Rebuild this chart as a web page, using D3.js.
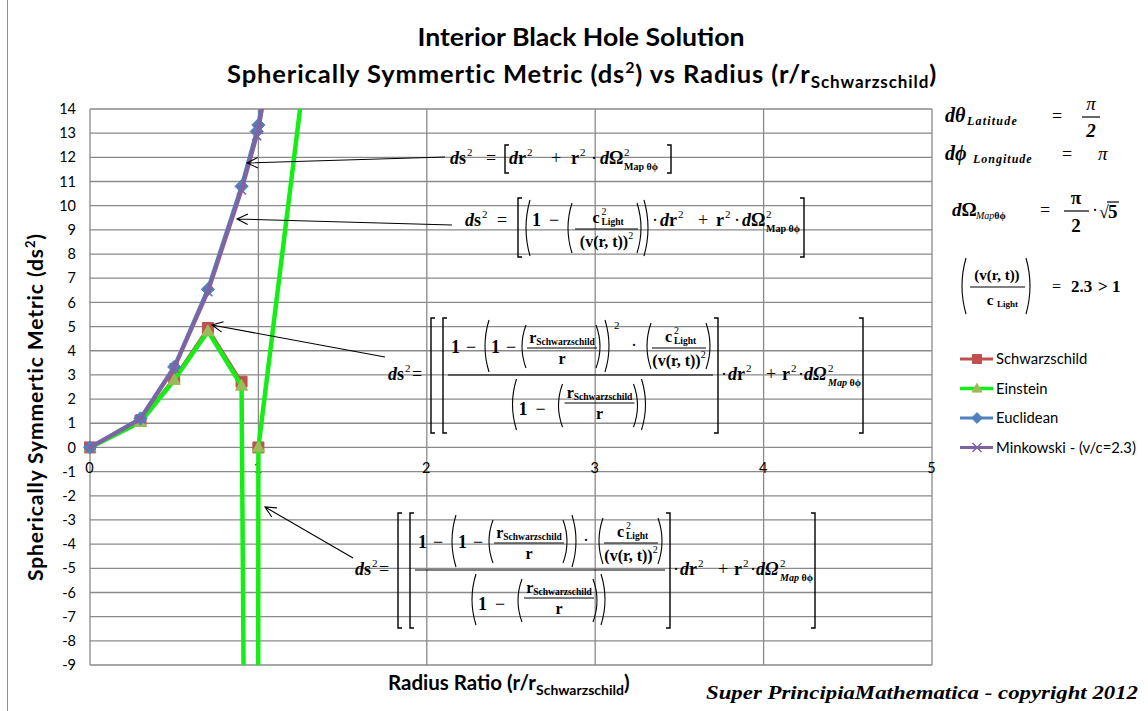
<!DOCTYPE html>
<html>
<head>
<meta charset="utf-8">
<script src="https://cdn.jsdelivr.net/npm/d3@7"></script>
<style>
  body { margin: 0; background: #fff; }
</style>
</head>
<body>
<svg id="chart" width="1148" height="711"></svg>
<script>
// values (errors such as #DIV/0! are plotted as 0, like Excel does)
const radius        = [0, 0.3, 0.5, 0.7, 0.9, 0.99, 1, 2, 3, 4, 5];
const schwarzschild = [0, 1.11, 2.88, 4.94, 2.72, -84.9, 0, 56.97, 123.4, 216.5, 335.9];
const einstein      = [0, 1.05, 2.79, 4.81, 2.55, -85.1, 0, 56.59, 122.8, 215.7, 334.9];
const euclidean     = [0, 1.20, 3.33, 6.54, 10.80, 13.07, 13.34, 53.35, 120.0, 213.4, 333.4];
const minkowski     = [0, 1.18, 3.29, 6.44, 10.65, 12.89, 13.15, 52.59, 118.3, 210.4, 328.7];

const xTicks = [0, 1, 2, 3, 4, 5];
const yTicks = [-9, -8, -7, -6, -5, -4, -3, -2, -1, 0, 1, 2, 3, 4, 5, 6, 7, 8, 9, 10, 11, 12, 13, 14];
const seriesNames = ["Schwarzschild", "Einstein", "Euclidean", "Minkowski - (v/c=2.3)"];

const sans = "Lato, 'Open Sans', sans-serif";
const serif = "'Liberation Serif', 'DejaVu Serif', serif";

const svg = d3.select("#chart");
svg.append("rect").attr("width", 1148).attr("height", 711).attr("fill", "#fff");
svg.append("line").attr("x1", 7.5).attr("x2", 7.5).attr("y1", 0).attr("y2", 711)
  .attr("stroke", "#8c8c8c");

const x = d3.scaleLinear().domain([0, 5]).range([90, 932]);
const y = d3.scaleLinear().domain([-9, 14]).range([665, 109]);

// grid
const grid = svg.append("g").attr("stroke", "#8a8a8a").attr("stroke-width", 1.3);
grid.selectAll(".h").data(yTicks).join("line")
  .attr("x1", x(0)).attr("x2", x(5))
  .attr("y1", d => y(d)).attr("y2", d => y(d));
grid.selectAll(".v").data(xTicks).join("line")
  .attr("x1", d => x(d)).attr("x2", d => x(d))
  .attr("y1", y(14)).attr("y2", y(-9));

// axes (labels only, lines come from the grid)
const yAxis = svg.append("g").attr("transform", `translate(${x(0)},0)`)
  .call(d3.axisLeft(y).tickValues(yTicks).tickFormat(d => String(d)).tickSize(0).tickPadding(14));
const xAxis = svg.append("g").attr("transform", `translate(0,${y(0)})`)
  .call(d3.axisBottom(x).tickValues(xTicks).tickFormat(d => String(d)).tickSize(0).tickPadding(15));
[yAxis, xAxis].forEach(a => {
  a.select(".domain").remove();
  a.selectAll("text").attr("font-family", sans).attr("font-size", 14.5).attr("fill", "#000");
});
xAxis.selectAll("text").attr("dx", -1);

// series
const series = [
  { name: seriesNames[0], values: schwarzschild, line: "#C0504D", width: 2.5, marker: "square", fill: "#C0504D" },
  { name: seriesNames[1], values: einstein, line: "#14EE14", width: 4.5, marker: "triangle", fill: "#9BBB59" },
  { name: seriesNames[2], values: euclidean, line: "#4F81BD", width: 4, marker: "diamond", fill: "#4F81BD" },
  { name: seriesNames[3], values: minkowski, line: "#8064A2", width: 4, marker: "cross", fill: "#8064A2" }
];

svg.append("clipPath").attr("id", "plot").append("rect")
  .attr("x", x(0)).attr("y", y(14)).attr("width", x(5) - x(0)).attr("height", y(-9) - y(14));

function markerPath(type, r) {
  if (type === "square") return `M${-r},${-r}H${r}V${r}H${-r}Z`;
  if (type === "triangle") return `M0,${-r * 1.15}L${r * 1.1},${r * 0.8}L${-r * 1.1},${r * 0.8}Z`;
  if (type === "diamond") return `M0,${-r * 1.2}L${r * 1.2},0L0,${r * 1.2}L${-r * 1.2},0Z`;
  return `M${-r},${-r}L${r},${r}M${r},${-r}L${-r},${r}`;
}

const line = d3.line().x(d => x(d[0])).y(d => y(d[1]));
series.forEach(s => {
  const pts = radius.map((r, i) => [r, s.values[i]]);
  const g = svg.append("g");
  g.append("path").datum(pts).attr("clip-path", "url(#plot)")
    .attr("d", line).attr("fill", "none")
    .attr("stroke", s.line).attr("stroke-width", s.width).attr("stroke-linejoin", "round");
  g.selectAll("path.m").data(pts.filter(p => p[1] >= -9 && p[1] <= 14 && p[0] <= 5)).join("path")
    .attr("class", "m")
    .attr("transform", d => `translate(${x(d[0])},${y(d[1])})`)
    .attr("d", markerPath(s.marker, s.marker === "cross" ? 4.5 : 5.5))
    .attr("fill", s.marker === "cross" ? "none" : s.fill)
    .attr("stroke", s.fill).attr("stroke-width", s.marker === "cross" ? 1.6 : 1);
});

// titles
svg.append("text").attr("x", 581).attr("y", 46).attr("text-anchor", "middle")
  .attr("font-family", sans).attr("font-weight", "bold").attr("font-size", 25)
  .attr("textLength", 327).attr("lengthAdjust", "spacingAndGlyphs")
  .text("Interior Black Hole Solution");
const t2 = svg.append("text").attr("x", 227).attr("y", 83)
  .attr("font-family", sans).attr("font-weight", "bold").attr("font-size", 25.5)
  .attr("letter-spacing", 0.9);
t2.append("tspan").text("Spherically Symmertic Metric (ds");
t2.append("tspan").text("2").attr("font-size", 16).attr("dy", -10);
t2.append("tspan").text(") vs Radius (r/r").attr("dy", 10);
t2.append("tspan").text("Schwarzschild").attr("font-size", 17).attr("dy", 5);
t2.append("tspan").text(")").attr("dy", -5);

const yt = svg.append("text").attr("transform", "translate(43,407) rotate(-90)")
  .attr("text-anchor", "middle").attr("font-family", sans).attr("font-weight", "bold").attr("font-size", 21)
  .attr("letter-spacing", 0.9);
yt.append("tspan").text("Spherically Symmertic Metric (ds");
yt.append("tspan").text("2").attr("font-size", 13).attr("dy", -8);
yt.append("tspan").text(")").attr("dy", 8);

const xt = svg.append("text").attr("x", 388).attr("y", 690)
  .attr("font-family", sans).attr("font-weight", "bold").attr("font-size", 20.5);
xt.append("tspan").text("Radius Ratio (r/r");
xt.append("tspan").text("Schwarzschild").attr("font-size", 14).attr("dy", 5);
xt.append("tspan").text(")").attr("dy", -5);

svg.append("text").attr("x", 706).attr("y", 699)
  .attr("font-family", serif).attr("font-style", "italic").attr("font-weight", "bold").attr("font-size", 18)
  .attr("textLength", 432).attr("lengthAdjust", "spacingAndGlyphs")
  .text("Super PrincipiaMathematica - copyright 2012");

// legend
const legend = svg.append("g");
series.forEach((s, i) => {
  const ly = 359 + i * 29.5;
  legend.append("line").attr("x1", 960).attr("x2", 993).attr("y1", ly).attr("y2", ly)
    .attr("stroke", s.line).attr("stroke-width", s.name === "Einstein" ? 3.5 : 3);
  legend.append("path").attr("transform", `translate(977,${ly})`)
    .attr("d", markerPath(s.marker, 4.5))
    .attr("fill", s.marker === "cross" ? "none" : s.fill)
    .attr("stroke", s.fill).attr("stroke-width", s.marker === "cross" ? 1.5 : 1);
  legend.append("text").attr("x", 996).attr("y", ly + 5)
    .attr("font-family", sans).attr("font-size", 14.8).text(s.name);
});

// equation annotations
const ann = svg.append("g").attr("fill", "#000");

function rich(g, px, py, parts, o = {}) {
  const t = g.append("text").attr("x", px).attr("y", py)
    .attr("font-family", serif).attr("font-size", o.size || 18)
    .attr("font-weight", o.w || "bold").attr("text-anchor", o.a || "start");
  if (o.ls) t.attr("letter-spacing", o.ls);
  let cur = 0;
  parts.forEach(p => {
    if (typeof p === "string") p = { s: p };
    const off = p.dy || 0;
    const ts = t.append("tspan").text(p.s).attr("dy", off - cur);
    cur = off;
    if (p.i) ts.attr("font-style", "italic");
    if (p.sz) ts.attr("font-size", p.sz);
    if (p.w) ts.attr("font-weight", p.w);
    if (p.dx) ts.attr("dx", p.dx);
  });
  return t;
}
const sq = { s: "2", sz: 11, dy: -8, w: "normal", dx: 1 };

function paren(g, px, y1, y2, left) {
  const w = 5, m = (y1 + y2) / 2;
  const d = left ? `M${px + w},${y1}Q${px - w * 0.6},${m} ${px + w},${y2}`
                 : `M${px - w},${y1}Q${px + w * 0.6},${m} ${px - w},${y2}`;
  g.append("path").attr("d", d).attr("fill", "none").attr("stroke", "#000").attr("stroke-width", 1.1);
}
function bracket(g, px, y1, y2, left) {
  const w = left ? 4 : -4;
  g.append("path").attr("d", `M${px + w},${y1}H${px}V${y2}H${px + w}`)
    .attr("fill", "none").attr("stroke", "#000").attr("stroke-width", 1.4);
}
function bar(g, x1, x2, by) {
  g.append("line").attr("x1", x1).attr("x2", x2).attr("y1", by).attr("y2", by)
    .attr("stroke", "#000").attr("stroke-width", 1.2);
}
function dOmega(g, px, py, italic) {
  rich(g, px, py, [{ s: "d", i: 1 }, { s: "Ω", i: italic ? 1 : 0 }]);
  rich(g, px + 24, py - 8, [{ s: "2", sz: 11 }], { w: "normal" });
  rich(g, px + 24, py + 6, [{ s: "Map", sz: 10, i: italic ? 1 : 0 }, { s: " θϕ", sz: 10 }]);
}
function rOverR(g, x1, x2, by) {
  const cx = (x1 + x2) / 2;
  rich(g, cx, by - 5, ["r", { s: "Schwarzschild", sz: 9.5, dy: 2 }], { a: "middle", size: 16 });
  bar(g, x1, x2, by);
  rich(g, cx, by + 16, ["r"], { a: "middle", size: 16 });
}
function cOverV(g, x1, x2, by) {
  const cx = (x1 + x2) / 2;
  rich(g, cx - 14, by - 6, ["c"], { size: 16 });
  rich(g, cx - 5, by - 14, [{ s: "2", sz: 10 }], { w: "normal" });
  rich(g, cx - 5, by - 4, [{ s: "Light", sz: 9.5 }]);
  bar(g, x1, x2, by);
  rich(g, cx, by + 18, ["(v(r, t))", { s: "2", sz: 10, dy: -8, w: "normal" }], { a: "middle", size: 16 });
}

// ds^2 = [dr^2 + r^2 dOmega^2]
rich(ann, 450, 164, [{ s: "d", i: 1 }, "s", sq]);
rich(ann, 486, 164, ["="], { w: "normal" });
bracket(ann, 505, 145, 173, true);
rich(ann, 509, 164, [{ s: "d", i: 1 }, "r", sq]);
rich(ann, 551, 164, ["+"], { w: "normal" });
rich(ann, 571, 164, ["r", sq]);
rich(ann, 591, 164, ["·"], { w: "normal" });
dOmega(ann, 600, 164, false);
bracket(ann, 671, 145, 173, false);

// ds^2 = [(1 - c^2/v^2) dr^2 + r^2 dOmega^2]
rich(ann, 465, 226, [{ s: "d", i: 1 }, "s", sq]);
rich(ann, 497, 226, ["="], { w: "normal" });
bracket(ann, 518, 198, 257, true);
paren(ann, 525, 200, 256, true);
rich(ann, 532, 226, ["1"]);
rich(ann, 549, 226, ["−"], { w: "normal" });
paren(ann, 567, 203, 253, true);
cOverV(ann, 575, 638, 229);
paren(ann, 642, 203, 253, false);
paren(ann, 649, 200, 256, false);
rich(ann, 652, 226, ["·"], { w: "normal" });
rich(ann, 660, 226, [{ s: "d", i: 1 }, "r", sq]);
rich(ann, 698, 226, ["+"], { w: "normal" });
rich(ann, 716, 226, ["r", sq]);
rich(ann, 734, 226, ["·"], { w: "normal" });
dOmega(ann, 742, 226, false);
bracket(ann, 804, 198, 257, false);

// the two Schwarzschild / Einstein forms
function bigFormula(ox, cy, squared) {
  const g = ann.append("g").attr("transform", `translate(${ox},${cy})`);
  const k = squared ? 15 : 0, h = k / 2;
  rich(g, 0, 5, [{ s: "d", i: 1 }, "s", sq]);
  rich(g, 24, 5, ["="], { w: "normal" });
  bracket(g, 43, -57, 58, true);
  bracket(g, 55, -57, 58, true);
  bar(g, 60, 310 + k, 0);
  // numerator
  rich(g, 63, -22, ["1"]);
  rich(g, 78, -22, ["−"], { w: "normal" });
  paren(g, 96, -55, -3, true);
  rich(g, 103, -22, ["1"]);
  rich(g, 118, -22, ["−"], { w: "normal" });
  paren(g, 133, -50, -7, true);
  rOverR(g, 139, 209, -27);
  paren(g, 213, -50, -7, false);
  paren(g, 222, -55, -3, false);
  if (squared) rich(g, 226, -46, [{ s: "2", sz: 11 }], { w: "normal" });
  rich(g, 228 + k, -24, ["·"], { w: "normal" });
  paren(g, 243 + k, -52, -6, true);
  cOverV(g, 249 + k, 303 + k, -27);
  paren(g, 308 + k, -52, -6, false);
  // denominator
  paren(g, 116 + h, 4, 55, true);
  rich(g, 123 + h, 40, ["1"]);
  rich(g, 140 + h, 40, ["−"], { w: "normal" });
  paren(g, 162 + h, 9, 52, true);
  rOverR(g, 169 + h, 239 + h, 28);
  paren(g, 243 + h, 9, 52, false);
  paren(g, 251 + h, 4, 55, false);
  // tail
  const e = 315 + k;
  bracket(g, e, -57, 58, false);
  rich(g, e + 3, 5, ["·"], { w: "normal" });
  rich(g, e + 10, 5, [{ s: "d", i: 1 }, "r", sq]);
  rich(g, e + 48, 5, ["+"], { w: "normal" });
  rich(g, e + 64, 5, ["r", sq]);
  rich(g, e + 80, 5, ["·"], { w: "normal" });
  dOmega(g, e + 86, 5, true);
  bracket(g, e + 145, -57, 58, false);
}
bigFormula(388, 375, true);
bigFormula(355, 570, false);

// constants on the right
rich(ann, 945, 122, [{ s: "dθ", i: 1 }], { size: 20 });
rich(ann, 967, 125, [{ s: "Latitude", i: 1, sz: 12 }], { ls: 1.2 });
rich(ann, 1052, 122, ["="], { w: "normal" });
rich(ann, 1091, 110, [{ s: "π", i: 1 }], { a: "middle", size: 19, w: "normal" });
bar(ann, 1082, 1100, 117);
rich(ann, 1091, 137, [{ s: "2", i: 1 }], { a: "middle", size: 19 });

rich(ann, 945, 160, [{ s: "dϕ", i: 1 }], { size: 20 });
rich(ann, 973, 163, [{ s: "Longitude", i: 1, sz: 12 }], { ls: 1 });
rich(ann, 1062, 160, ["="], { w: "normal" });
rich(ann, 1098, 160, [{ s: "π", i: 1 }], { size: 19, w: "normal" });

rich(ann, 952, 216, [{ s: "d", i: 1 }, "Ω"], { size: 19 });
rich(ann, 976, 219, [{ s: "Map", i: 1, sz: 10, w: "normal" }, { s: "θϕ", sz: 10 }]);
rich(ann, 1040, 216, ["="], { w: "normal" });
rich(ann, 1076, 204, ["π"], { a: "middle", size: 19 });
bar(ann, 1064, 1089, 211);
rich(ann, 1076, 232, ["2"], { a: "middle", size: 19 });
rich(ann, 1092, 216, ["·"], { w: "normal" });
rich(ann, 1099, 218, ["√"], { size: 18, w: "normal" });
rich(ann, 1108, 218, ["5"], { size: 19 });
bar(ann, 1107, 1119, 202);

paren(ann, 961, 258, 314, true);
rich(ann, 997, 280, ["(v(r, t))"], { a: "middle", size: 15 });
bar(ann, 970, 1025, 287);
rich(ann, 990, 305, ["c"], { a: "middle", size: 15 });
rich(ann, 997, 307, [{ s: "Light", sz: 9 }]);
paren(ann, 1031, 258, 314, false);
rich(ann, 1052, 292, ["="], { size: 16, w: "normal" });
rich(ann, 1071, 292, ["2.3"], { size: 17 });
rich(ann, 1098, 292, ["> 1"], { size: 17 });

// arrows pointing at the curves
const arrows = [
  [[445, 157], [247, 163]],
  [[452, 225], [237, 219]],
  [[385, 357], [212, 325]],
  [[353, 558], [265, 507]]
];
arrows.forEach(([from, to]) => {
  const a = Math.atan2(from[1] - to[1], from[0] - to[0]);
  const hl = 12, hw = 0.45;
  ann.append("path")
    .attr("d", `M${from[0]},${from[1]}L${to[0]},${to[1]}` +
      `M${to[0] + hl * Math.cos(a + hw)},${to[1] + hl * Math.sin(a + hw)}L${to[0]},${to[1]}` +
      `L${to[0] + hl * Math.cos(a - hw)},${to[1] + hl * Math.sin(a - hw)}`)
    .attr("fill", "none").attr("stroke", "#000").attr("stroke-width", 1.1);
});
</script>
</body>
</html>
